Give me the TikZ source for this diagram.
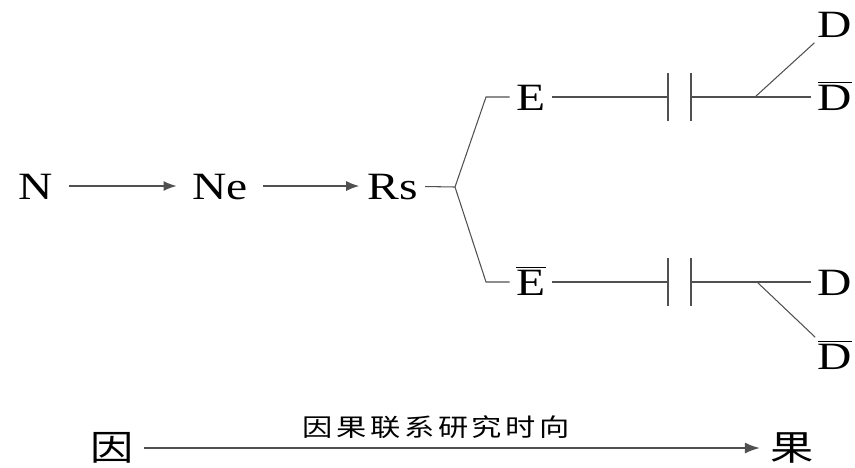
\documentclass[tikz,border=0pt]{standalone}
\usepackage{fontspec}
\setmainfont{Liberation Serif}
\newfontfamily\cjk{Noto Sans CJK SC}
\newfontfamily\cjklabel{Noto Sans CJK SC}[LetterSpace=12]
\usetikzlibrary{arrows.meta,positioning}

\definecolor{linegray}{RGB}{80,80,80}
\newcommand{\nbar}[1]{$\overline{\hbox{#1}}$}

\tikzset{
    var/.style={font=\fontsize{22}{26}\selectfont, xscale=1.23, inner sep=3pt,
        text height=15pt, text depth=0pt},
    cause/.style={font=\cjk\fontsize{20}{24}\selectfont, xscale=1.23, inner sep=3pt},
    link/.style={draw=linegray, line width=0.6pt},
    flow/.style={link, line width=0.8pt, shorten <=5pt, shorten >=5pt,
        -{Latex[length=2.6mm,width=2mm]}},
    plate/.style={draw=linegray, line width=1.1pt}
}

\begin{document}
\begin{tikzpicture}[x=0.02cm, y=-0.02cm]
    \useasboundingbox (0,0) rectangle (855,467);

    % main chain
    \node[var] (N) at (36,186) {N};
    \node[var] (Ne) at (220,186) {Ne};
    \node[var] (Rs) at (393,186) {Rs};
    \draw[flow] (N) -- (Ne);
    \draw[flow, shorten >=1pt] (Ne) -- (Rs);

    % two branches
    \node[var] (E) at (531,97) {E};
    \node[var] (Ebar) at (531,282) {\nbar{E}};
    \coordinate (fork) at (455,187);
    \draw[link] (Rs) -- (fork);
    \draw[link] (fork) -- (486,97) -- (E);
    \draw[link] (fork) -- (486,282) -- (Ebar);

    % outcomes
    \node[var] (D1) at (835,24) {D};
    \node[var] (Dbar1) at (835,97) {\nbar{D}};
    \node[var] (D2) at (835,282) {D};
    \node[var] (Dbar2) at (835,356) {\nbar{D}};

    % breaks
    \coordinate (capE1) at (668,97);
    \coordinate (capE2) at (691,97);
    \coordinate (capEb1) at (668,282);
    \coordinate (capEb2) at (691,282);
    \foreach \c in {capE1,capE2,capEb1,capEb2}
        \draw[plate] (\c) ++(0,-24) -- ++(0,48);
    \draw[link] (E) -- (capE1);
    \draw[link] (Ebar) -- (capEb1);
    \draw[link] (capE2) -- (Dbar1);
    \draw[link] (capEb2) -- (D2);
    \coordinate (splitE) at (755,97);
    \coordinate (splitEb) at (757,282);
    \draw[link] (splitE) -- (D1);
    \draw[link] (splitEb) -- (Dbar2);

    % time direction
    \node[cause] (cause) at (112,448) {因};
    \node[cause] (effect) at (792,448) {果};
    \draw[flow, line width=1.1pt, shorten <=2pt, shorten >=2pt,
        -{Latex[length=3mm,width=2.2mm]}] (cause) -- (effect)
        node[midway, above=5pt, xshift=-9, xscale=1.23, inner sep=0pt,
             font=\cjklabel\fontsize{14}{16}\selectfont] {因果联系研究时向};
\end{tikzpicture}
\end{document}
